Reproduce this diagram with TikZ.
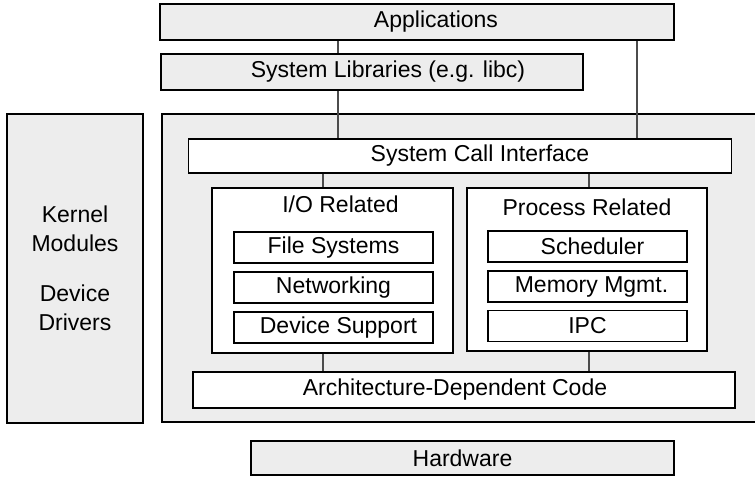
\documentclass[tikz,border=0pt]{standalone}
\usepackage{fontspec}
\setmainfont{Liberation Sans}
\usetikzlibrary{positioning}
\definecolor{boxgray}{HTML}{EDEDED}
\tikzset{
  graybox/.style={draw, line width=1.6pt, fill=boxgray, inner sep=0pt},
  whitebox/.style={draw, line width=1.6pt, fill=white, inner sep=0pt},
  title/.style={inner sep=0pt, anchor=north},
  conn/.style={line width=1.1pt, draw=black!70},
}

\begin{document}
\begin{tikzpicture}[x=1pt, y=-1pt, font=\fontsize{23}{29}\selectfont]
	\useasboundingbox (0,0) rectangle (755,477);
	% user space
	\node[graybox, minimum width=514, minimum height=36,
		label={[xshift=19pt]center:Applications}] (app) at (417,22) {};
	\node[graybox, minimum width=422, minimum height=36,
		label={[xshift=16pt]center:System Libraries (e.g. libc)}] (lib) at (372,72) {};
	% kernel space
	\node[graybox, minimum width=136, minimum height=309, align=center] (mods) at (75,268.5)
		{Kernel\\Modules\\[21pt]Device\\Drivers};
	\node[graybox, minimum width=600, minimum height=308] (kern) at (462,268) {};
	\node[whitebox, minimum width=543, minimum height=34,
		label={[xshift=20pt]center:System Call Interface}] (sci) at (460,156) {};
	\node[whitebox, minimum width=241, minimum height=165] (io) at (332.5,270.5) {};
	\node[whitebox, minimum width=240, minimum height=163] (proc) at (587,269.5) {};
	\node[title, below=8pt of io.north, xshift=8pt] (iotitle) {I/O Related};
	\node[title, below=11pt of proc.north] (proctitle) {Process Related};
	\node[whitebox, minimum width=199, minimum height=31] (fs) at (333.5,247.5) {File Systems};
	\node[whitebox, minimum width=199, minimum height=31] (net) at (333.5,287.5) {Networking};
	\node[whitebox, minimum width=199, minimum height=31,
		label={[xshift=5pt]center:Device Support}] (dev) at (333.5,327.5) {};
	\node[whitebox, minimum width=199, minimum height=31,
		label={[xshift=5pt]center:Scheduler}] (sched) at (587.5,246.5) {};
	\node[whitebox, minimum width=199, minimum height=31,
		label={[xshift=4pt]center:Memory Mgmt.}] (mem) at (587.5,286.5) {};
	\node[whitebox, minimum width=199, minimum height=31] (ipc) at (587.5,326) {IPC};
	\node[whitebox, minimum width=542, minimum height=36,
		label={[xshift=-9pt]center:Architecture-Dependent Code}] (arch) at (464,390) {};
	% hardware
	\node[graybox, minimum width=423, minimum height=34] (hw) at (462.5,458) {Hardware};
	% connectors
	\coordinate (xa) at (338,0);
	\coordinate (xb) at (637,0);
	\coordinate (xc) at (323,0);
	\coordinate (xd) at (589,0);
	\draw[conn] (app.south -| xa) -- (lib.north -| xa);
	\draw[conn] (lib.south -| xa) -- (sci.north -| xa);
	\draw[conn] (app.south -| xb) -- (sci.north -| xb);
	\draw[conn] (sci.south -| xc) -- (io.north -| xc);
	\draw[conn] (io.south -| xc) -- (arch.north -| xc);
	\draw[conn] (sci.south -| xd) -- (proc.north -| xd);
	\draw[conn] (proc.south -| xd) -- (arch.north -| xd);
\end{tikzpicture}
\end{document}
